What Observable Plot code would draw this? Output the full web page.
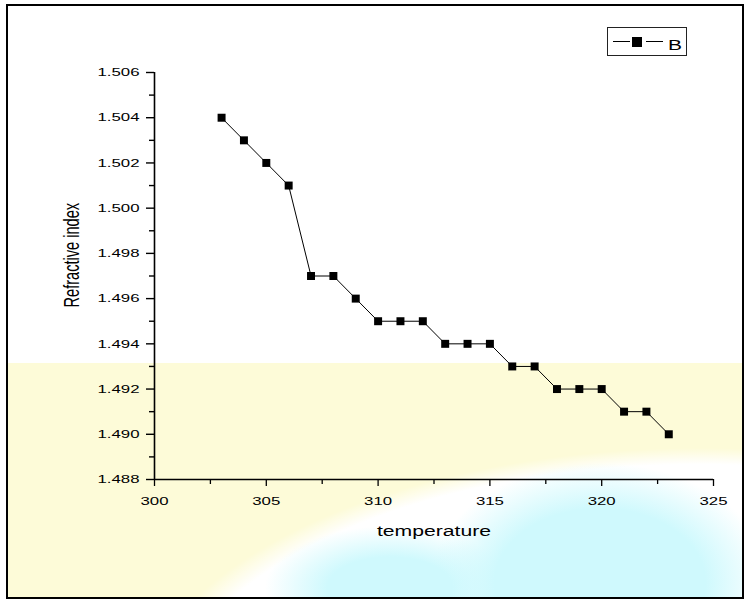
<!DOCTYPE html>
<html>
<head>
<meta charset="utf-8">
<script src="https://cdn.jsdelivr.net/npm/d3@7"></script>
<script src="https://cdn.jsdelivr.net/npm/@observablehq/plot@0.6"></script>
<style>
  body { margin: 0; background: #fff; }
  #wrap { position: relative; width: 746px; height: 601px; overflow: hidden; font-family: "Liberation Sans", Arial, sans-serif; }
  #bg {
    position: absolute; left: 8px; top: 363px; width: 734px; height: 234px;
    background:
      radial-gradient(ellipse 170px 120px at 592px 220px, #cff9fd 0%, #cff9fd 62%, rgba(207,249,253,0) 100%),
      radial-gradient(ellipse 125px 62px at 382px 225px, #cff9fd 0%, #cff9fd 50%, rgba(207,249,253,0) 100%),
      radial-gradient(ellipse 565px 272px at 692px 357px, #fff 0%, #fff 94%, rgba(255,255,255,0) 100%),
      #fdfbd8;
  }
  #frame { position: absolute; left: 6px; top: 4px; width: 738px; height: 595px; border: 2px solid #000; box-sizing: border-box; }
  #chart { position: absolute; left: 0; top: 0; }
  #legend { position: absolute; left: 607px; top: 27px; width: 80px; height: 29px; border: 1px solid #222; box-sizing: border-box; background: #fff; }
  #legend svg { display: block; }
</style>
</head>
<body>
<div id="wrap">
  <div id="bg"></div>
  <div id="frame"></div>
  <div id="chart"></div>
  <div id="legend"></div>
</div>
<script>
const temperature = [303, 304, 305, 306, 307, 308, 309, 310, 311, 312, 313, 314, 315, 316, 317, 318, 319, 320, 321, 322, 323];
const refractiveIndex = [1.504, 1.503, 1.502, 1.501, 1.497, 1.497, 1.496, 1.495, 1.495, 1.495, 1.494, 1.494, 1.494, 1.493, 1.493, 1.492, 1.492, 1.492, 1.491, 1.491, 1.490];
const seriesName = "B";
const xTicks = [300, 305, 310, 315, 320, 325];
const xMinorTicks = [302.5, 307.5, 312.5, 317.5, 322.5];
const yTicks = [1.488, 1.490, 1.492, 1.494, 1.496, 1.498, 1.500, 1.502, 1.504, 1.506];
const yMinorTicks = [1.489, 1.491, 1.493, 1.495, 1.497, 1.499, 1.501, 1.503, 1.505];
const xLabel = "temperature";
const yLabel = "Refractive index";

const data = temperature.map((t, i) => ({t, n: refractiveIndex[i]}));

const chart = Plot.plot({
  width: 746,
  height: 601,
  marginLeft: 154,
  marginRight: 33,
  marginTop: 72,
  marginBottom: 122,
  style: {background: "transparent", overflow: "visible", fontFamily: "'Liberation Sans', Arial, sans-serif", color: "#000"},
  x: {domain: [300, 325]},
  y: {domain: [1.488, 1.506]},
  marks: [
    Plot.axisX({ticks: xMinorTicks, tickSize: 5, tickFormat: () => "", label: null, strokeWidth: 1.3, stroke: "#000"}),
    Plot.axisX({ticks: xTicks, tickSize: 7, tickPadding: 10, tickFormat: d => String(d), fontSize: 11.6, label: null, strokeWidth: 1.3, stroke: "#000", fill: "#000"}),
    Plot.axisY({ticks: yMinorTicks, tickSize: 5, tickFormat: () => "", label: null, strokeWidth: 1.4, stroke: "#000"}),
    Plot.axisY({ticks: yTicks, tickSize: 8, tickPadding: 7, tickFormat: d3.format(".3f"), fontSize: 11.6, label: null, strokeWidth: 1.4, stroke: "#000", fill: "#000"}),
    Plot.ruleX([300], {stroke: "#000", strokeWidth: 1.6}),
    Plot.ruleY([1.488], {stroke: "#000", strokeWidth: 1.6}),
    Plot.line(data, {x: "t", y: "n", stroke: "#000", strokeWidth: 1}),
    Plot.dot(data, {x: "t", y: "n", symbol: "square", r: 4.5, fill: "#000", stroke: "none"}),
    Plot.text([xLabel], {frameAnchor: "bottom", dy: 51.5, fontSize: 14.6, lineAnchor: "middle", fill: "#000"}),
    Plot.text([yLabel], {frameAnchor: "left", rotate: -90, dx: -82, dy: 31.5, fontSize: 14.6, lineAnchor: "middle", fill: "#000"})
  ]
});

// The reference is horizontally stretched: widen the glyphs accordingly
chart.querySelectorAll("text").forEach(t => {
  let tr = t.getAttribute("transform");
  if (!tr) {
    const x = parseFloat(t.getAttribute("x")) || 0;
    tr = `translate(${x},0)`;
    t.removeAttribute("x");
  }
  if (/rotate/.test(tr)) t.setAttribute("transform", tr + " scale(1,1.45)");
  else t.setAttribute("transform", tr + " scale(1.45,1)");
});

document.getElementById("chart").appendChild(chart);

// Legend
const ns = "http://www.w3.org/2000/svg";
const lg = document.createElementNS(ns, "svg");
lg.setAttribute("width", 78);
lg.setAttribute("height", 27);
lg.innerHTML = `
  <line x1="5" x2="22" y1="13.5" y2="13.5" stroke="#000" stroke-width="1"/>
  <rect x="24" y="9" width="10" height="10" fill="#000"/>
  <line x1="38" x2="55" y1="13.5" y2="13.5" stroke="#000" stroke-width="1"/>
  <text transform="translate(60,21.5) scale(1.45,1)" font-family="'Liberation Sans', Arial, sans-serif" font-size="14.5" fill="#000"></text>`;
lg.querySelector("text").textContent = seriesName;
document.getElementById("legend").appendChild(lg);
</script>
</body>
</html>
